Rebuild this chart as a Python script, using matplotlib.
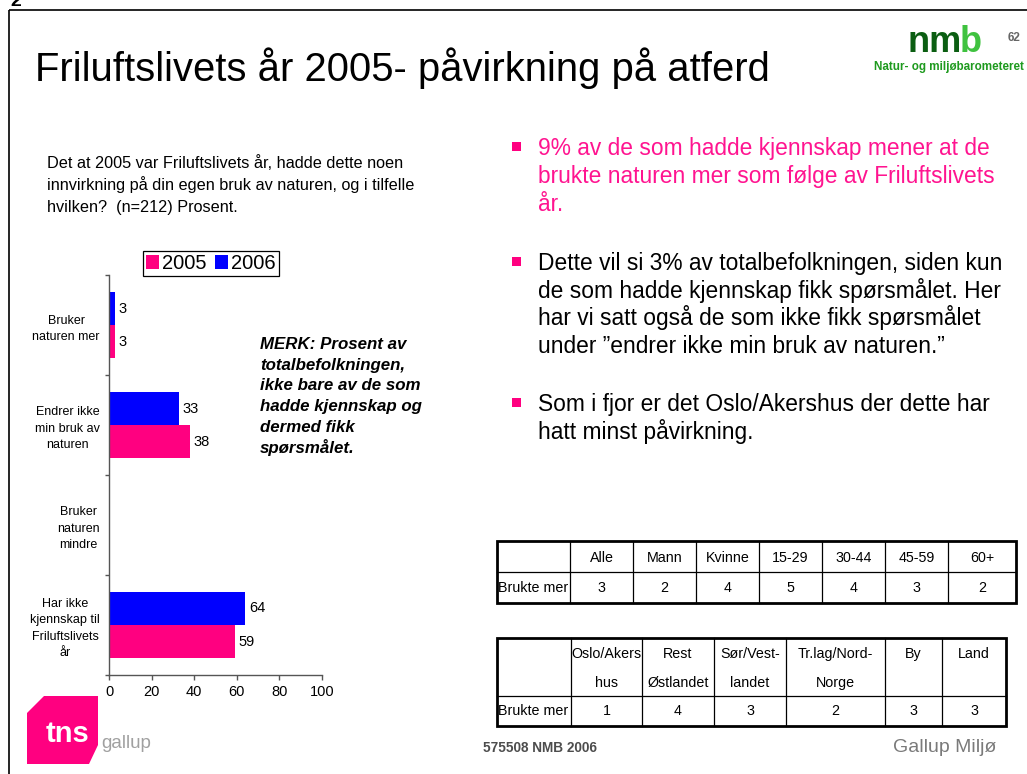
import matplotlib
matplotlib.use("Agg")
import matplotlib.pyplot as plt
import numpy as np
from matplotlib.patches import Polygon, Rectangle

plt.rcParams['font.family'] = ['Liberation Sans', 'DejaVu Sans']

# ---------------- data ----------------
title = "Friluftslivets år 2005- påvirkning på atferd"
question = ["Det at 2005 var Friluftslivets år, hadde dette noen",
            "innvirkning på din egen bruk av naturen, og i tilfelle",
            "hvilken?  (n=212) Prosent."]
categories = ["Bruker\nnaturen mer", "Endrer ikke\nmin bruk av\nnaturen",
              "Bruker\nnaturen\nmindre", "Har ikke\nkjennskap til\nFriluftslivets\når"]
values_2005 = [3, 38, np.nan, 59]
values_2006 = [3, 33, np.nan, 64]
series_names = ["2005", "2006"]
x_ticks = [0, 20, 40, 60, 80, 100]
merk = ["MERK: Prosent av", "totalbefolkningen,", "ikke bare av de som",
        "hadde kjennskap og", "dermed fikk", "spørsmålet."]
bullet1 = ["9% av de som hadde kjennskap mener at de",
           "brukte naturen mer som følge av Friluftslivets", "år."]
bullet2 = ["Dette vil si 3% av totalbefolkningen, siden kun",
           "de som hadde kjennskap fikk spørsmålet. Her",
           "har vi satt også de som ikke fikk spørsmålet",
           "under \u201dendrer ikke min bruk av naturen.\u201d"]
bullet3 = ["Som i fjor er det Oslo/Akershus der dette har",
           "hatt minst påvirkning."]
row_label = "Brukte mer"
table1_cols = ["Alle", "Mann", "Kvinne", "15-29", "30-44", "45-59", "60+"]
table1_vals = [3, 2, 4, 5, 4, 3, 2]
table2_cols = ["Oslo/Akers\nhus", "Rest\nØstlandet", "Sør/Vest-\nlandet",
               "Tr.lag/Nord-\nNorge", "By", "Land"]
table2_vals = [1, 4, 3, 2, 3, 3]

PINK = '#FF0080'
BLUE = '#0000FF'
TXTPINK = '#FF1490'

W, H = 1027, 774
fig = plt.figure(figsize=(W / 100, H / 100), dpi=100)
bg = fig.add_axes([0, 0, 1, 1])
bg.set_xlim(0, W)
bg.set_ylim(H, 0)
bg.axis('off')

def em(pt):
    return pt / 0.72

def lines_at(x, ys, lines, size, **kw):
    for yy, ln in zip(ys, lines):
        bg.text(x, yy + 0.34 * em(size), ln, fontsize=size, va='baseline', **kw)

# slide frame and stray page number
bg.plot([9, W + 5], [10, 10], color='black', lw=1.2, solid_capstyle='butt')
bg.plot([9, 9], [10, H + 5], color='black', lw=1.2, solid_capstyle='butt')
bg.text(10, 6, "2", fontsize=14, fontweight='bold', va='baseline')

# title
bg.text(35, 81, title, fontsize=28.8, va='baseline', color='black')

# nmb logo
bg.text(908, 52, "nm", fontsize=26, fontweight='bold', color='#0B5E12', va='baseline')
bg.text(960, 52, "b", fontsize=26, fontweight='bold', color='#3FC23F', va='baseline')
bg.text(1014, 38, "62", fontsize=8.5, fontweight='bold', color='#666666', ha='center', va='center')
bg.text(949, 67, "Natur- og miljøbarometeret", fontsize=8.4, fontweight='bold',
        color='#1E9A1E', ha='center', va='center')

# question
lines_at(47, [162, 184, 206], question, 11.7, color='black')

# MERK note
lines_at(260, [343, 364, 384, 405, 426, 447], merk, 12.2, color='black',
         fontweight='bold', fontstyle='italic')

# bullets
for ys, lines, col in [([147, 175, 203], bullet1, TXTPINK),
                       ([262, 290, 317, 345], bullet2, 'black'),
                       ([403, 431], bullet3, 'black')]:
    bg.add_patch(Rectangle((512, ys[0] - 5), 9, 9, color=PINK, lw=0))
    lines_at(538, ys, lines, 16.4, color=col)

# tables
def draw_table(edges, yedges, headers, vals, header_line_ys):
    x0, x1 = edges[0], edges[-1]
    y0, ym, y1 = yedges
    for xe in edges[1:-1]:
        bg.plot([xe, xe], [y0, y1], color='black', lw=0.9)
    bg.plot([x0, x1], [ym, ym], color='black', lw=0.9)
    bg.add_patch(Rectangle((x0, y0), x1 - x0, y1 - y0, fill=False, ec='black', lw=2.0))
    for i, hd in enumerate(headers):
        cx = (edges[i + 1] + edges[i + 2]) / 2
        parts = hd.split("\n")
        for k, p in enumerate(parts):
            bg.text(cx, header_line_ys[k], p, fontsize=10.3, ha='center', va='center')
    yd = (ym + y1) / 2
    bg.text(x0 + 1, yd, row_label, fontsize=10.3, ha='left', va='center')
    for i, v in enumerate(vals):
        cx = (edges[i + 1] + edges[i + 2]) / 2
        bg.text(cx, yd, str(v), fontsize=10.3, ha='center', va='center')

draw_table([497, 570, 633, 696, 759, 822, 885, 948, 1016], [541, 572, 603],
           table1_cols, table1_vals, [558])
draw_table([497, 571, 642, 714, 786, 885, 942, 1006], [638, 696, 726],
           table2_cols, table2_vals, [654, 683])

# tns gallup logo
bg.add_patch(Polygon([(27, 713), (44, 696), (98, 696), (98, 745), (89, 764), (27, 764)],
                     closed=True, color=PINK, lw=0))
bg.text(46, 742, "tns", fontsize=21, fontweight='bold', color='white', va='baseline')
bg.text(101, 748, "gallup", fontsize=13.5, color='#A0A0A0', va='baseline')

# footer
bg.text(483, 748, "575508 NMB 2006", fontsize=9.8, fontweight='bold', color='#4D4D4D', va='center')
bg.text(893, 748, "Gallup Miljø", fontsize=14, color='#7A7A7A', va='center')

# ---------------- chart ----------------
ax = fig.add_axes([109 / W, 1 - 675 / H, 213 / W, 400 / H])
ax.set_xlim(0, 100)
ax.set_ylim(3.5, -0.5)
pos = np.arange(len(categories))
h = 0.33
b06 = ax.barh(pos - h / 2, values_2006, height=h, color=BLUE)
b05 = ax.barh(pos + h / 2, values_2005, height=h, color=PINK)
for bars, vals in [(b06, values_2006), (b05, values_2005)]:
    ax.bar_label(bars, labels=['' if np.isnan(v) else f"{v:g}" for v in vals],
                 padding=2.5, fontsize=10.5)

ax.set_yticks(pos, labels=categories, fontsize=9, multialignment='center', linespacing=1.45)
ax.set_yticks(np.arange(-0.5, len(categories), 1.0), minor=True)
ax.tick_params(axis='y', which='major', length=0, pad=6.5)
ax.tick_params(axis='y', which='minor', length=3, width=1, color='#555555')
ax.set_xticks(x_ticks, labels=[str(t) for t in x_ticks])
ax.tick_params(axis='x', length=3.5, width=1, color='#555555', pad=4, labelsize=10.5)
for s in ['top', 'right']:
    ax.spines[s].set_visible(False)
for s in ['left', 'bottom']:
    ax.spines[s].set_color('#555555')
    ax.spines[s].set_linewidth(1.0)
ax.patch.set_alpha(0)

leg = ax.legend([b05, b06], series_names, loc='center',
                bbox_to_anchor=(211 / W, 1 - 263.5 / H), bbox_transform=fig.transFigure,
                ncol=2, fontsize=14.5, frameon=True, fancybox=False, edgecolor='black',
                framealpha=1, handlelength=0.65, handleheight=0.65, handletextpad=0.15,
                columnspacing=0.4, borderpad=0.15, borderaxespad=0)
leg.get_frame().set_linewidth(0.9)

fig.savefig("out.png", dpi=100)
